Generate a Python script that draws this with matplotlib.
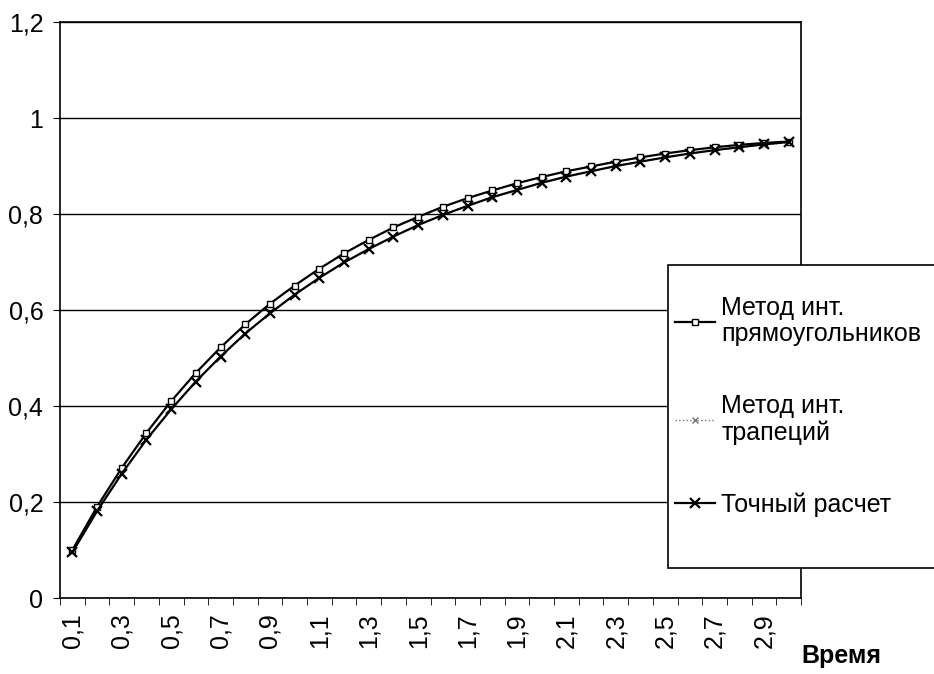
import matplotlib
matplotlib.use("Agg")
import matplotlib.pyplot as plt
from matplotlib.patches import Rectangle

plt.rcParams['font.family'] = ['Liberation Sans', 'DejaVu Sans']

# time values (categories)
times = ["0,1", "0,2", "0,3", "0,4", "0,5", "0,6", "0,7", "0,8", "0,9", "1",
         "1,1", "1,2", "1,3", "1,4", "1,5", "1,6", "1,7", "1,8", "1,9", "2",
         "2,1", "2,2", "2,3", "2,4", "2,5", "2,6", "2,7", "2,8", "2,9", "3"]

# values
rect_method = [0.100, 0.190, 0.271, 0.344, 0.410, 0.469, 0.522, 0.570, 0.613, 0.651,
               0.686, 0.718, 0.746, 0.772, 0.794, 0.815, 0.833, 0.849, 0.864, 0.877,
               0.889, 0.899, 0.909, 0.918, 0.926, 0.933, 0.939, 0.944, 0.948, 0.951]
trap_method = [0.095, 0.182, 0.260, 0.331, 0.394, 0.451, 0.504, 0.551, 0.594, 0.632,
               0.667, 0.699, 0.727, 0.753, 0.777, 0.798, 0.817, 0.834, 0.850, 0.864,
               0.877, 0.889, 0.899, 0.909, 0.918, 0.926, 0.933, 0.939, 0.944, 0.949]
exact = [0.095, 0.181, 0.259, 0.330, 0.393, 0.451, 0.503, 0.551, 0.593, 0.632,
         0.667, 0.699, 0.727, 0.753, 0.777, 0.798, 0.817, 0.835, 0.850, 0.865,
         0.878, 0.889, 0.900, 0.909, 0.918, 0.926, 0.933, 0.939, 0.945, 0.950]

y_ticks = [0, 0.2, 0.4, 0.6, 0.8, 1.0, 1.2]
y_labels = ["0", "0,2", "0,4", "0,6", "0,8", "1", "1,2"]

x = list(range(len(times)))

fig = plt.figure(figsize=(9.34, 6.74), dpi=100)
ax = fig.add_axes([60 / 934, 76 / 674, 741 / 934, 576 / 674])

ax.plot(x, rect_method, color='black', lw=1.6, marker='s', ms=5,
        mfc='white', mec='black', mew=1.0, label="Метод инт.\nпрямоугольников")
ax.plot(x, trap_method, color='#777777', lw=1.0, ls=':', marker='x', ms=5,
        mec='#777777', mew=1.0, label="Метод инт.\nтрапеций")
ax.plot(x, exact, color='black', lw=1.6, marker='x', ms=6.5, mew=1.6,
        label="Точный расчет")

ax.set_xlim(-0.5, len(times) - 0.5)
ax.set_ylim(0, 1.2)
ax.set_yticks(y_ticks)
ax.set_yticklabels(y_labels, fontsize=18)
ax.grid(axis='y', color='black', lw=1.0)
ax.set_axisbelow(True)

ax.set_xticks(x[::2])
ax.set_xticklabels(times[::2], rotation=90, fontsize=18)
ax.set_xticks([i - 0.5 for i in range(len(times) + 1)], minor=True)
ax.tick_params(axis='x', which='major', length=0, pad=11)
ax.tick_params(axis='x', which='minor', length=5, direction='out', color='black')
ax.tick_params(axis='y', length=5, direction='out', pad=7)
for s in ax.spines.values():
    s.set_color('black')
    s.set_linewidth(1.2)

fig.text(801 / 934, 1 - 656 / 674, "Время", fontsize=18, fontweight='bold',
         ha='left', va='center')

# legend box
box = Rectangle((668 / 934, 1 - 568 / 674), 280 / 934, 303 / 674,
                transform=fig.transFigure, facecolor='white', edgecolor='black',
                lw=1.2, zorder=3)
fig.patches.append(box)
leg = fig.legend(loc='upper left', bbox_to_anchor=(675 / 934, 1 - 296 / 674),
                 frameon=False, fontsize=18, handlelength=1.6, handletextpad=0.25,
                 labelspacing=1.9, borderaxespad=0, borderpad=0)
for t in leg.get_texts():
    t.set_linespacing(1.12)
leg.set_zorder(4)

fig.savefig("out.png", dpi=100)
